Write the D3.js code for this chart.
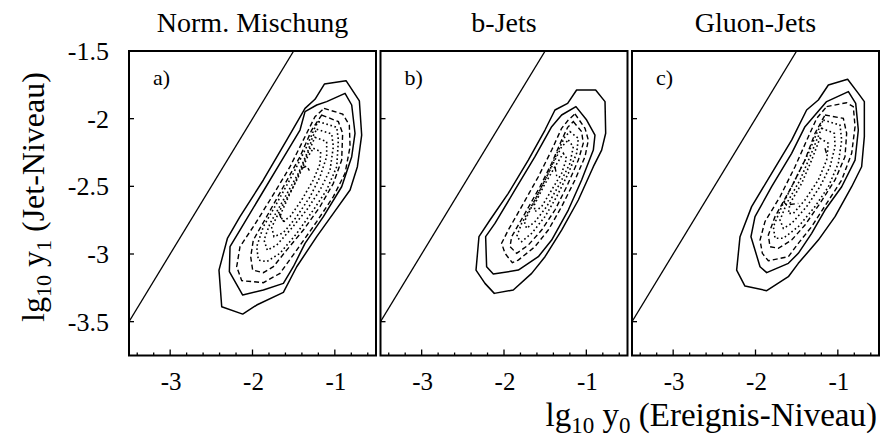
<!DOCTYPE html>
<html>
<head>
<meta charset="utf-8">
<script src="https://cdn.jsdelivr.net/npm/d3@7/dist/d3.min.js"></script>
<style>
  html, body { margin: 0; padding: 0; background: #fff; }
  svg { display: block; }
  text { font-family: "Liberation Serif", "Times New Roman", serif; fill: #000; }
</style>
</head>
<body>
<svg id="chart" width="880" height="441"></svg>
<script>
// Panel headings and tags
const panelTitles = ["Norm. Mischung", "b-Jets", "Gluon-Jets"];
const panelTags = ["a)", "b)", "c)"];

// Axis ticks (lg10 units)
const xTickValues = [-3, -2, -1];
const xTickLabels = ["-3", "-2", "-1"];
const yTickValues = [-1.5, -2, -2.5, -3, -3.5];
const yTickLabels = ["-1.5", "-2", "-2.5", "-3", "-3.5"];

// Reference diagonal y1 = y0
const diagonal = [[-3.5, -3.5], [-1.5, -1.5]];

// Contours, normal mixture: [lg10 y0, lg10 y1] vertices
const mixSolid = [
  [[-1.127,-1.744],[-0.864,-1.719],[-0.702,-1.869],[-0.674,-2.121],[-0.726,-2.355],[-0.815,-2.527],[-1.018,-2.700],[-1.220,-2.872],[-1.463,-3.094],[-1.625,-3.284],[-1.949,-3.377],[-2.119,-3.444],[-2.374,-3.390],[-2.407,-3.119],[-2.305,-2.885],[-2.152,-2.724],[-1.868,-2.453],[-1.585,-2.158],[-1.362,-1.924],[-1.241,-1.857]],
  [[-1.099,-1.874],[-0.876,-1.813],[-0.795,-1.899],[-0.755,-2.108],[-0.795,-2.281],[-0.917,-2.503],[-1.139,-2.724],[-1.362,-2.921],[-1.504,-3.094],[-1.625,-3.217],[-1.868,-3.266],[-2.119,-3.303],[-2.281,-3.131],[-2.273,-2.946],[-2.152,-2.823],[-1.909,-2.577],[-1.666,-2.330],[-1.423,-2.084],[-1.362,-1.948],[-1.220,-1.899]]
];
const mixDashed = [
  [[-1.131,-1.924],[-0.905,-1.966],[-0.824,-2.047],[-0.815,-2.207],[-0.876,-2.404],[-1.018,-2.576],[-1.220,-2.761],[-1.463,-2.971],[-1.666,-3.143],[-1.868,-3.212],[-2.131,-3.197],[-2.192,-3.094],[-2.152,-2.946],[-1.990,-2.798],[-1.787,-2.601],[-1.544,-2.355],[-1.342,-2.108],[-1.241,-1.985]],
  [[-1.160,-1.973],[-0.957,-2.022],[-0.905,-2.108],[-0.917,-2.306],[-1.018,-2.478],[-1.180,-2.650],[-1.382,-2.823],[-1.585,-2.971],[-1.747,-3.094],[-1.868,-3.138],[-1.998,-3.119],[-2.022,-3.020],[-1.990,-2.897],[-1.828,-2.724],[-1.625,-2.503],[-1.423,-2.281],[-1.281,-2.084]]
];
const mixPeaks = [
  [[-1.403,-2.367],[-1.342,-2.350],[-1.309,-2.384]],
  [[-1.674,-2.700],[-1.645,-2.749],[-1.605,-2.761]]
];
const mixDotted = [
  [[-1.200,-2.022],[-0.977,-2.064],[-0.957,-2.158],[-0.977,-2.355],[-1.099,-2.527],[-1.261,-2.675],[-1.463,-2.848],[-1.666,-2.995],[-1.828,-3.057],[-1.929,-3.045],[-1.949,-2.946],[-1.868,-2.798],[-1.706,-2.626],[-1.504,-2.404],[-1.342,-2.207],[-1.241,-2.064]],
  [[-1.220,-2.079],[-1.038,-2.113],[-1.018,-2.207],[-1.058,-2.379],[-1.180,-2.527],[-1.342,-2.675],[-1.544,-2.823],[-1.706,-2.934],[-1.820,-2.971],[-1.860,-2.897],[-1.787,-2.774],[-1.625,-2.601],[-1.443,-2.404],[-1.322,-2.232],[-1.269,-2.133]],
  [[-1.241,-2.138],[-1.099,-2.170],[-1.099,-2.281],[-1.180,-2.429],[-1.301,-2.577],[-1.463,-2.724],[-1.625,-2.843],[-1.739,-2.872],[-1.767,-2.803],[-1.666,-2.675],[-1.504,-2.503],[-1.382,-2.330],[-1.301,-2.219]],
  [[-1.261,-2.219],[-1.172,-2.244],[-1.180,-2.335],[-1.261,-2.453],[-1.403,-2.601],[-1.544,-2.724],[-1.633,-2.761],[-1.658,-2.705],[-1.544,-2.552],[-1.423,-2.404],[-1.334,-2.286]]
];

// Contours, b jets
const bSolid = [
  [[-1.118,-1.788],[-0.887,-1.788],[-0.773,-1.874],[-0.765,-2.108],[-0.814,-2.232],[-0.915,-2.355],[-1.097,-2.601],[-1.300,-2.823],[-1.502,-3.020],[-1.664,-3.143],[-1.887,-3.266],[-2.118,-3.291],[-2.231,-3.217],[-2.340,-3.119],[-2.304,-2.872],[-2.170,-2.749],[-1.948,-2.552],[-1.705,-2.306],[-1.502,-2.084],[-1.381,-1.936],[-1.227,-1.887]],
  [[-1.126,-1.911],[-0.996,-2.010],[-0.895,-2.121],[-0.915,-2.232],[-1.057,-2.453],[-1.219,-2.675],[-1.421,-2.897],[-1.583,-3.020],[-1.826,-3.119],[-2.130,-3.148],[-2.211,-3.094],[-2.223,-2.872],[-2.110,-2.774],[-1.867,-2.527],[-1.624,-2.281],[-1.421,-2.059],[-1.300,-1.973]]
];
const bDashed = [
  [[-1.138,-1.965],[-1.016,-2.071],[-0.976,-2.158],[-1.016,-2.281],[-1.138,-2.453],[-1.300,-2.650],[-1.462,-2.823],[-1.624,-2.946],[-1.826,-3.045],[-1.899,-3.064],[-1.988,-2.995],[-2.029,-2.921],[-1.948,-2.823],[-1.786,-2.650],[-1.583,-2.429],[-1.421,-2.232],[-1.300,-2.071],[-1.219,-2.010]],
  [[-1.158,-2.022],[-1.057,-2.096],[-1.037,-2.182],[-1.097,-2.306],[-1.239,-2.503],[-1.381,-2.675],[-1.543,-2.823],[-1.705,-2.934],[-1.846,-2.995],[-1.927,-2.946],[-1.907,-2.872],[-1.745,-2.700],[-1.563,-2.503],[-1.421,-2.330],[-1.300,-2.158],[-1.227,-2.064]]
];
const bPeaks = [
  [[-1.381,-2.355],[-1.360,-2.424]]
];
const bDotted = [
  [[-1.199,-2.096],[-1.097,-2.145],[-1.118,-2.256],[-1.219,-2.404],[-1.361,-2.577],[-1.502,-2.724],[-1.664,-2.847],[-1.786,-2.909],[-1.846,-2.872],[-1.786,-2.774],[-1.624,-2.601],[-1.462,-2.404],[-1.340,-2.232],[-1.259,-2.133]],
  [[-1.219,-2.158],[-1.158,-2.207],[-1.199,-2.330],[-1.320,-2.478],[-1.482,-2.650],[-1.624,-2.761],[-1.725,-2.811],[-1.753,-2.761],[-1.664,-2.650],[-1.522,-2.478],[-1.401,-2.330],[-1.300,-2.207]],
  [[-1.280,-2.256],[-1.239,-2.293],[-1.300,-2.404],[-1.421,-2.527],[-1.543,-2.650],[-1.624,-2.687],[-1.632,-2.638],[-1.522,-2.503],[-1.381,-2.355]]
];

// Contours, gluon jets
const gluonSolid = [
  [[-1.115,-1.751],[-0.881,-1.709],[-0.751,-1.813],[-0.678,-1.874],[-0.678,-2.133],[-0.711,-2.355],[-0.832,-2.503],[-1.034,-2.724],[-1.237,-2.897],[-1.480,-3.069],[-1.601,-3.168],[-1.864,-3.271],[-2.128,-3.237],[-2.229,-3.119],[-2.188,-2.872],[-2.047,-2.650],[-1.804,-2.404],[-1.561,-2.158],[-1.379,-1.936],[-1.237,-1.862]],
  [[-1.136,-1.874],[-0.872,-1.800],[-0.783,-1.887],[-0.751,-2.084],[-0.791,-2.306],[-0.953,-2.503],[-1.156,-2.675],[-1.318,-2.847],[-1.480,-2.995],[-1.601,-3.069],[-1.864,-3.138],[-1.945,-3.094],[-2.055,-2.872],[-2.006,-2.724],[-1.804,-2.503],[-1.561,-2.256],[-1.399,-2.059],[-1.277,-1.973]]
];
const gluonDashed = [
  [[-1.136,-1.911],[-0.893,-1.882],[-0.812,-1.911],[-0.791,-2.059],[-0.832,-2.256],[-0.953,-2.453],[-1.136,-2.626],[-1.318,-2.798],[-1.480,-2.921],[-1.601,-3.020],[-1.844,-3.050],[-1.917,-2.995],[-1.945,-2.897],[-1.885,-2.761],[-1.702,-2.577],[-1.520,-2.355],[-1.358,-2.133],[-1.257,-1.998]],
  [[-1.156,-1.973],[-0.933,-1.998],[-0.893,-2.108],[-0.913,-2.281],[-1.034,-2.453],[-1.217,-2.626],[-1.399,-2.786],[-1.561,-2.897],[-1.723,-2.958],[-1.824,-2.946],[-1.844,-2.860],[-1.763,-2.724],[-1.561,-2.503],[-1.399,-2.306],[-1.277,-2.108]]
];
const gluonPeaks = [
  [[-1.156,-2.219],[-1.132,-2.269]],
  [[-1.662,-2.613],[-1.621,-2.638],[-1.480,-2.626]]
];
const gluonDotted = [
  [[-1.176,-2.010],[-0.974,-2.047],[-0.953,-2.158],[-0.994,-2.330],[-1.115,-2.503],[-1.277,-2.650],[-1.480,-2.798],[-1.662,-2.884],[-1.763,-2.884],[-1.783,-2.798],[-1.682,-2.650],[-1.520,-2.453],[-1.358,-2.256],[-1.257,-2.108]],
  [[-1.196,-2.071],[-1.042,-2.108],[-1.034,-2.207],[-1.095,-2.355],[-1.217,-2.503],[-1.379,-2.650],[-1.561,-2.774],[-1.662,-2.811],[-1.702,-2.749],[-1.621,-2.626],[-1.459,-2.453],[-1.338,-2.281],[-1.257,-2.158]],
  [[-1.217,-2.145],[-1.115,-2.182],[-1.136,-2.306],[-1.237,-2.453],[-1.399,-2.601],[-1.540,-2.700],[-1.601,-2.700],[-1.581,-2.626],[-1.439,-2.478],[-1.318,-2.306]]
];

const panels = [
  { title: panelTitles[0], tag: panelTags[0], solid: mixSolid, dashed: mixDashed, peaks: mixPeaks, dotted: mixDotted },
  { title: panelTitles[1], tag: panelTags[1], solid: bSolid, dashed: bDashed, peaks: bPeaks, dotted: bDotted },
  { title: panelTitles[2], tag: panelTags[2], solid: gluonSolid, dashed: gluonDashed, peaks: gluonPeaks, dotted: gluonDotted }
];

// Layout
const panelLeft = [129, 380.5, 632];
const panelW = 247, panelTop = 51, panelH = 304.5;

const svg = d3.select("#chart");

const x = d3.scaleLinear().domain([-3.5, -0.5]).range([0, panelW]);
const y = d3.scaleLinear().domain([-3.75, -1.5]).range([panelH, 0]);
const line = d3.line().x(d => x(d[0])).y(d => y(d[1]));
const closed = d3.line().x(d => x(d[0])).y(d => y(d[1])).curve(d3.curveLinearClosed);

const xMinor = d3.range(-3.4, -0.55, 0.2).filter(v => Math.abs(v - Math.round(v)) > 0.05);

svg.append("defs").append("clipPath").attr("id", "plotClip")
  .append("rect").attr("width", panelW).attr("height", panelH);

panels.forEach((p, i) => {
  const g = svg.append("g").attr("transform", `translate(${panelLeft[i]},${panelTop})`);
  const plot = g.append("g").attr("clip-path", "url(#plotClip)");

  plot.append("path").datum(diagonal).attr("d", line)
    .attr("fill", "none").attr("stroke", "#000").attr("stroke-width", 1.3);

  plot.selectAll(".solid").data(p.solid).join("path").attr("d", closed)
    .attr("fill", "none").attr("stroke", "#000").attr("stroke-width", 1.5)
    .attr("stroke-linejoin", "round");
  plot.selectAll(".dashed").data(p.dashed).join("path").attr("d", closed)
    .attr("fill", "none").attr("stroke", "#000").attr("stroke-width", 1.4)
    .attr("stroke-dasharray", "5,3");
  plot.selectAll(".peak").data(p.peaks).join("path").attr("d", line)
    .attr("fill", "none").attr("stroke", "#000").attr("stroke-width", 1.4)
    .attr("stroke-dasharray", "5,3");
  plot.selectAll(".dotted").data(p.dotted).join("path").attr("d", closed)
    .attr("fill", "none").attr("stroke", "#000").attr("stroke-width", 1.6)
    .attr("stroke-dasharray", "1.6,2.6");

  // ticks (inward)
  g.selectAll(".xmaj").data(xTickValues).join("line")
    .attr("x1", d => x(d)).attr("x2", d => x(d))
    .attr("y1", panelH).attr("y2", panelH - 6)
    .attr("stroke", "#000").attr("stroke-width", 1.3);
  g.selectAll(".xmin").data(xMinor).join("line")
    .attr("x1", d => x(d)).attr("x2", d => x(d))
    .attr("y1", panelH).attr("y2", panelH - 3)
    .attr("stroke", "#000").attr("stroke-width", 1.3);
  g.selectAll(".ymaj").data(yTickValues.slice(1)).join("line")
    .attr("x1", 0).attr("x2", 5)
    .attr("y1", d => y(d)).attr("y2", d => y(d))
    .attr("stroke", "#000").attr("stroke-width", 1.3);

  g.append("rect").attr("width", panelW).attr("height", panelH)
    .attr("fill", "none").attr("stroke", "#000").attr("stroke-width", 2);

  g.selectAll(".xlab").data(xTickValues).join("text")
    .attr("x", d => x(d) + 1).attr("y", panelH + 34)
    .attr("text-anchor", "middle").attr("font-size", 25)
    .text((d, k) => xTickLabels[k]);

  g.append("text").attr("x", 24).attr("y", 34).attr("font-size", 22).text(p.tag);

  svg.append("text").attr("x", panelLeft[i] + panelW / 2).attr("y", 32)
    .attr("text-anchor", "middle").attr("font-size", 28).text(p.title);
});

// y tick labels on the first panel
svg.selectAll(".ylab").data(yTickValues).join("text")
  .attr("x", 109).attr("y", d => panelTop + y(d) + 9)
  .attr("text-anchor", "end").attr("font-size", 26)
  .text((d, k) => yTickLabels[k]);

// x-axis title
const xt = svg.append("text").attr("x", 877).attr("y", 426)
  .attr("text-anchor", "end").attr("font-size", 33);
xt.append("tspan").text("lg");
xt.append("tspan").attr("font-size", 23).attr("dy", 7).text("10");
xt.append("tspan").attr("dy", -7).text(" y");
xt.append("tspan").attr("font-size", 23).attr("dy", 7).text("0");
xt.append("tspan").attr("dy", -7).text(" (Ereignis-Niveau)");

// y-axis title
const yt = svg.append("text").attr("transform", "translate(44,197) rotate(-90)")
  .attr("text-anchor", "middle").attr("font-size", 32);
yt.append("tspan").text("lg");
yt.append("tspan").attr("font-size", 22).attr("dy", 7).text("10");
yt.append("tspan").attr("dy", -7).text(" y");
yt.append("tspan").attr("font-size", 22).attr("dy", 7).text("1");
yt.append("tspan").attr("dy", -7).text(" (Jet-Niveau)");
</script>
</body>
</html>
